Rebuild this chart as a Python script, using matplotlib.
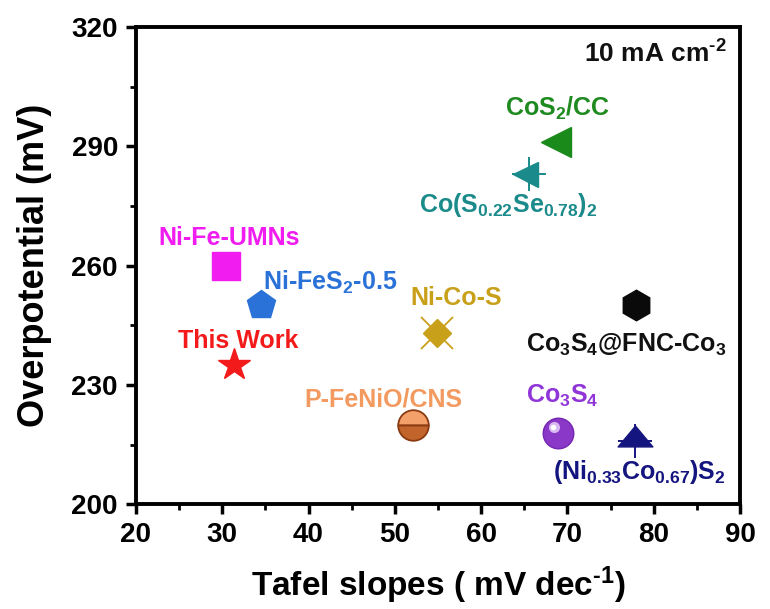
import matplotlib
matplotlib.use("Agg")
import numpy as np
import matplotlib.pyplot as plt
from matplotlib.path import Path

# Tafel slope (mV dec^-1) and overpotential (mV) at 10 mA cm^-2
names = ["This Work", "Ni-Fe-UMNs", "Ni-FeS2-0.5", "P-FeNiO/CNS", "Ni-Co-S",
         "Co(S0.22Se0.78)2", "CoS2/CC", "Co3S4@FNC-Co3", "Co3S4", "(Ni0.33Co0.67)S2"]
tafel = [31.4, 30.4, 34.5, 52.1, 54.9, 65.6, 68.7, 78.0, 68.9, 77.8]
overpot = [235, 260, 250, 220, 243, 283, 291, 250, 218, 216]

labels = [r"This Work", r"Ni-Fe-UMNs", r"Ni-FeS$_\mathbf{2}$-0.5", r"P-FeNiO/CNS", r"Ni-Co-S",
          r"Co(S$_\mathbf{0.22}$Se$_\mathbf{0.78}$)$_\mathbf{2}$", r"CoS$_\mathbf{2}$/CC",
          r"Co$_\mathbf{3}$S$_\mathbf{4}$@FNC-Co$_\mathbf{3}$", r"Co$_\mathbf{3}$S$_\mathbf{4}$",
          r"(Ni$_\mathbf{0.33}$Co$_\mathbf{0.67}$)S$_\mathbf{2}$"]
label_colors = ["#f21a1a", "#f01cf0", "#2a72d8", "#f29a60", "#c9a01a",
                "#1a8a8a", "#1f8a1f", "#111111", "#9035d8", "#151580"]
# label baseline offsets in data units (dx, dy) and horizontal alignment
label_pos = [(0.5, 4.2), (0.4, 5.2), (0.2, 4.0), (-3.4, 4.6), (2.2, 7.0),
             (-2.5, -9.6), (0.1, 6.6), (-1.2, -11.6), (0.5, 7.4), (0.5, -9.6)]
label_ha = ["center", "center", "left", "center", "center",
            "center", "center", "center", "center", "center"]

FONT = "Liberation Sans"
plt.rcParams["font.family"] = [FONT, "DejaVu Sans"]
plt.rcParams["mathtext.fontset"] = "custom"
plt.rcParams["mathtext.rm"] = FONT + ":bold"
plt.rcParams["mathtext.bf"] = FONT + ":bold"
plt.rcParams["mathtext.it"] = FONT + ":bold"

fig = plt.figure(figsize=(7.7, 6.09), dpi=100)
ax = fig.add_axes([0.1766, 0.172, 0.7844, 0.7837])

wide_tri = Path([(-1, -0.6), (1, -0.6), (0, 0.6), (-1, -0.6)],
                [Path.MOVETO, Path.LINETO, Path.LINETO, Path.CLOSEPOLY])

# This Work
ax.plot(tafel[0], overpot[0], marker="*", ms=24, color="#f21a1a", mec="#f21a1a", ls="none")
# Ni-Fe-UMNs
ax.plot(tafel[1], overpot[1], marker="s", ms=20, color="#f01cf0", ls="none")
# Ni-FeS2-0.5
ax.plot(tafel[2], overpot[2], marker="p", ms=21, color="#2a72d8", ls="none")
# P-FeNiO/CNS: two-tone circle
ax.plot(tafel[3], overpot[3], marker="o", ms=22, fillstyle="top", color="#f4a06a",
        markerfacecoloralt="#c2652c", mec="#8a3a10", mew=1.3, ls="none")
# Ni-Co-S: diamond with crossing lines
ax.plot(tafel[4], overpot[4], marker="D", ms=14, color="#c9a01a", ls="none")
ax.plot(tafel[4], overpot[4], marker="x", ms=23, mew=1.3, color="#c9a01a", ls="none")
# Co(S0.22Se0.78)2: left triangle with cross
ax.plot(tafel[5] - 0.5, overpot[5], marker="<", ms=18, color="#1a8a8a", ls="none")
ax.plot(tafel[5], overpot[5], marker="+", ms=24, mew=1.4, color="#1a8a8a", ls="none")
# CoS2/CC
ax.plot(tafel[6], overpot[6], marker="<", ms=21, color="#1a8a1a", ls="none")
# Co3S4@FNC-Co3
ax.plot(tafel[7], overpot[7], marker="h", ms=22, color="#0a0a0a", ls="none")
# Co3S4: shaded sphere
ax.plot(tafel[8], overpot[8], marker="o", ms=22, color="#8a38c8", mec="#7426b0", ls="none")
ax.plot(tafel[8] - 0.5, overpot[8] + 1.3, marker="o", ms=8, color="#d8b8f2", mec="none", ls="none")
ax.plot(tafel[8] - 0.55, overpot[8] + 1.4, marker="o", ms=4, color="#ffffff", mec="none", ls="none")
# (Ni0.33Co0.67)S2: up triangle with cross
ax.plot(tafel[9], overpot[9] + 1.2, marker=wide_tri, ms=25, color="#151580", ls="none")
ax.plot(tafel[9], overpot[9], marker="+", ms=24, mew=1.4, color="#151580", ls="none")

for x, y, lab, c, (dx, dy), ha in zip(tafel, overpot, labels, label_colors, label_pos, label_ha):
    ax.text(x + dx, y + dy, lab, color=c, fontsize=18, fontweight="bold",
            ha=ha, va="baseline")

ax.text(0.978, 0.925, r"10 mA cm$^{\text{-}\mathbf{2}}$", transform=ax.transAxes, ha="right",
        va="baseline", fontsize=19, fontweight="bold", color="#111111")

ax.set_xlim(20, 90)
ax.set_ylim(200, 320)
ax.set_xticks(np.arange(20, 91, 10))
ax.set_xticks(np.arange(25, 90, 10), minor=True)
ax.set_yticks(np.arange(200, 321, 30))
ax.set_yticks(np.arange(215, 320, 30), minor=True)
ax.tick_params(which="major", direction="out", length=7, width=2.5, labelsize=20, pad=6)
ax.tick_params(which="minor", direction="out", length=4, width=2.0)
for lab in ax.get_xticklabels() + ax.get_yticklabels():
    lab.set_fontweight("bold")
for s in ax.spines.values():
    s.set_linewidth(2.8)

ax.set_xlabel(r"Tafel slopes ( mV dec$^{\text{-}\mathbf{1}}$)", fontsize=24, fontweight="bold",
              labelpad=12)
ax.set_ylabel("Overpotential (mV)", fontsize=26, fontweight="bold", labelpad=14)

fig.savefig("out.png", dpi=100)
